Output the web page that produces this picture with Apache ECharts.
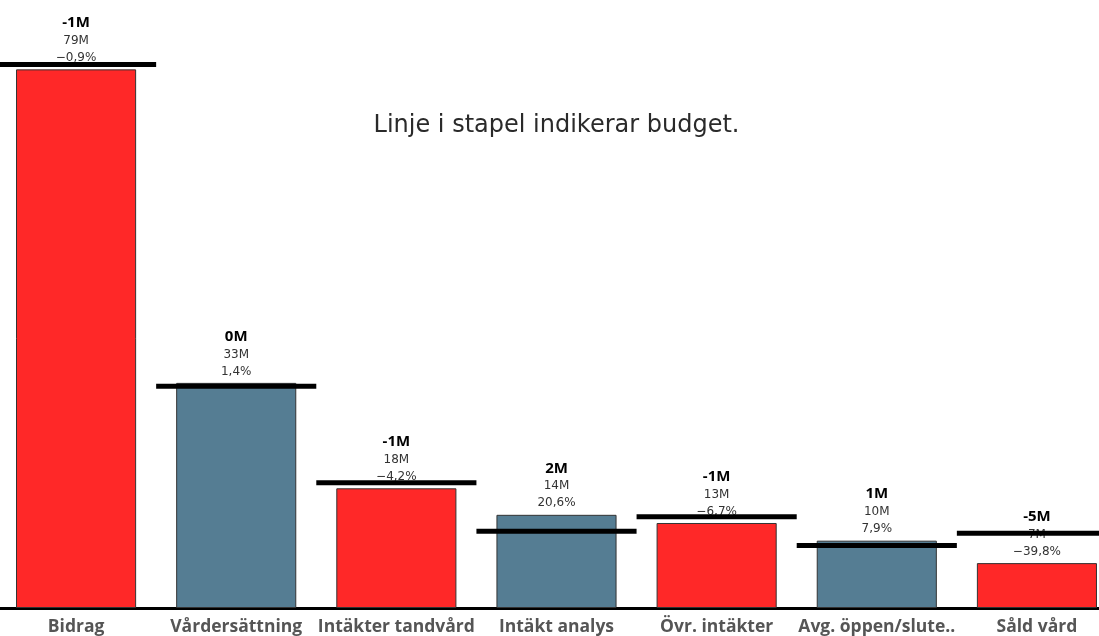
<!DOCTYPE html>
<html>
<head>
<meta charset="utf-8">
<script src="https://cdn.jsdelivr.net/npm/echarts@6/dist/echarts.min.js"></script>
<style>
html,body{margin:0;padding:0;background:#fff;overflow:hidden;}
#c{width:1121px;height:636px;margin-left:-4px;}
</style>
</head>
<body>
<div id="c"></div>
<script>
const categories = ['Bidrag', 'Vårdersättning', 'Intäkter tandvård', 'Intäkt analys', 'Övr. intäkter', 'Avg. öppen/slute..', 'Såld vård'];
const actual = [79.2, 33.1, 17.6, 13.7, 12.5, 9.9, 6.6];
const budget = [79.9, 32.6, 18.4, 11.3, 13.4, 9.2, 11.0];
const diffLabels = ['-1M', '0M', '-1M', '2M', '-1M', '1M', '-5M'];
const valueLabels = ['79M', '33M', '18M', '14M', '13M', '10M', '7M'];
const pctLabels = ['\u22120,9%', '1,4%', '\u22124,2%', '20,6%', '\u22126,7%', '7,9%', '\u221239,8%'];
const barColors = ['#FF2828', '#557D93', '#FF2828', '#557D93', '#FF2828', '#557D93', '#FF2828'];

const chart = echarts.init(document.getElementById('c'));
chart.setOption({
  animation: false,
  backgroundColor: '#fff',
  title: {
    text: 'Linje i stapel indikerar budget.',
    left: 'center',
    top: 109,
    textStyle: { fontFamily: 'DejaVu Sans', fontWeight: 'normal', fontSize: 24, color: '#2a2a2a' }
  },
  grid: { left: 0, right: 0, top: 0, bottom: 28, containLabel: false },
  xAxis: {
    type: 'category',
    data: categories,
    axisTick: { show: false },
    axisLine: { lineStyle: { color: '#000', width: 3 } },
    axisLabel: { interval: 0, hideOverlap: false, fontFamily: 'Open Sans', fontWeight: 'bold', fontSize: 17.5, color: '#555', margin: 10 }
  },
  yAxis: { type: 'value', min: 0, max: 89.4, show: false, splitLine: { show: false } },
  series: [
    {
      type: 'bar',
      data: actual.map((v, i) => ({ value: v, itemStyle: { color: barColors[i] } })),
      barWidth: '75%',
      itemStyle: { borderColor: '#333', borderWidth: 1 },
      z: 2,
      label: {
        show: true,
        position: 'top',
        distance: 3,
        formatter: p => '{a|' + diffLabels[p.dataIndex] + '}\n{b|' + valueLabels[p.dataIndex] + '}\n{c|' + pctLabels[p.dataIndex] + '}',
        rich: {
          a: { fontFamily: 'Open Sans', fontWeight: 'bold', fontSize: 15, lineHeight: 19, color: '#000' },
          b: { fontFamily: 'DejaVu Sans', fontSize: 12, lineHeight: 17, color: '#333' },
          c: { fontFamily: 'DejaVu Sans', fontSize: 12, lineHeight: 17, color: '#333' }
        }
      }
    },
    {
      type: 'custom',
      z: 10,
      data: budget.map((v, i) => [i, v]),
      renderItem: function (params, api) {
        const pt = api.coord([api.value(0), api.value(1)]);
        const w = api.size([1, 0])[0];
        return {
          type: 'rect',
          shape: { x: pt[0] - w / 2, y: pt[1] - 2.5, width: w, height: 5 },
          style: { fill: '#000' }
        };
      }
    }
  ]
});
</script>
</body>
</html>
